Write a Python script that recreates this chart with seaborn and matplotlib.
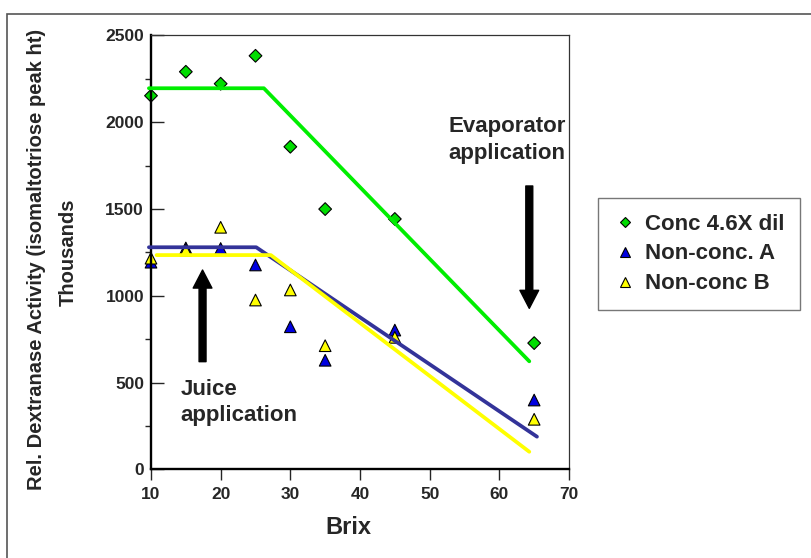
"""Dextranase activity vs Brix: scatter of three samples with piecewise trend lines."""

import matplotlib
matplotlib.use("Agg")
import matplotlib.pyplot as plt
from matplotlib.patches import Rectangle
from matplotlib.ticker import MultipleLocator
import pandas as pd
import seaborn as sns

# measured points
brix = [10, 15, 20, 25, 30, 35, 45, 65]
conc_dil = [2152, 2290, 2221, 2382, 1858, 1499, 1442, 727]
non_conc_a = [1193, 1275, 1272, 1177, 821, 628, 802, 399]
non_conc_b = [1216, 1262, 1394, 975, 1033, 712, 760, 288]
series_names = ["Conc 4.6X dil", "Non-conc. A", "Non-conc B"]

# piecewise trend lines (plateau then linear decline)
conc_fit_x = [9.7, 26.2, 64.3]
conc_fit_y = [2195, 2195, 622]
a_fit_x = [9.7, 25.1, 65.4]
a_fit_y = [1279, 1279, 188]
b_fit_x = [10.8, 27.2, 64.3]
b_fit_y = [1234, 1234, 101]

# annotation arrows: (x, tail, tip)
juice_arrow = (17.4, 620, 1148)
evap_arrow = (64.3, 1632, 927)

marker_colors = {"Conc 4.6X dil": "#00dd00", "Non-conc. A": "#0000e0", "Non-conc B": "#ffff00"}
marker_shapes = {"Conc 4.6X dil": "D", "Non-conc. A": "^", "Non-conc B": "^"}
marker_areas = {"Conc 4.6X dil": 42, "Non-conc. A": 70, "Non-conc B": 70}

df = pd.DataFrame({
    "Brix": brix * 3,
    "activity": conc_dil + non_conc_a + non_conc_b,
    "sample": [n for n in series_names for _ in brix],
})

sns.set_style("white")
plt.rcParams["font.family"] = ["Liberation Sans", "DejaVu Sans"]
plt.rcParams["font.weight"] = "bold"

fig = plt.figure(figsize=(8.11, 5.58), dpi=100)
ax = fig.add_axes([151 / 811, 1 - 469.3 / 558, 418 / 811, 434 / 558])

sns.scatterplot(data=df, x="Brix", y="activity", hue="sample", style="sample",
                size="sample", sizes=marker_areas,
                palette=marker_colors, markers=marker_shapes,
                edgecolor="black", linewidth=0.8, zorder=2, ax=ax)
for coll in ax.collections:
    coll.set_clip_on(False)

for fx, fy, col in [(conc_fit_x, conc_fit_y, "#00ee00"),
                    (a_fit_x, a_fit_y, "#333399"),
                    (b_fit_x, b_fit_y, "#ffff00")]:
    sns.lineplot(x=fx, y=fy, color=col, linewidth=2.7, estimator=None, sort=False,
                 solid_capstyle="round", zorder=3, ax=ax)
for ln in ax.lines:
    ln.set_clip_on(False)

ax.set_xlim(10, 70)
ax.set_ylim(0, 2500)
ax.xaxis.set_major_locator(MultipleLocator(10))
ax.yaxis.set_major_locator(MultipleLocator(500))
ax.yaxis.set_minor_locator(MultipleLocator(250))

ax.tick_params(axis="y", which="major", direction="in", length=9.4, width=1,
               labelsize=12.5, pad=5, left=True)
ax.tick_params(axis="y", which="minor", direction="out", length=4.3, width=1, left=True)
ax.tick_params(axis="x", which="major", direction="out", length=8, width=1,
               labelsize=12.5, pad=5, bottom=True)
for lab in ax.get_xticklabels() + ax.get_yticklabels():
    lab.set_fontweight("bold")

for side in ["left", "bottom"]:
    ax.spines[side].set_linewidth(1.7)
    ax.spines[side].set_color("black")
for side in ["top", "right"]:
    ax.spines[side].set_linewidth(0.9)
    ax.spines[side].set_color("#333333")

ax.set_xlabel("Brix", fontsize=17, fontweight="bold")
ax.xaxis.set_label_coords(0.471, -0.107)
ax.set_ylabel("")
ax.text(-0.275, 0.4846, "Rel. Dextranase Activity (isomaltotriose peak ht)",
        transform=ax.transAxes, rotation=90, ha="center", va="center",
        fontsize=14.5, fontweight="bold")
ax.text(-0.1986, 0.5007, "Thousands", transform=ax.transAxes, rotation=90,
        ha="center", va="center", fontsize=14.5, fontweight="bold")

# arrows
for ax_x, tail, tip in [juice_arrow, evap_arrow]:
    ax.annotate("", xy=(ax_x, tip), xytext=(ax_x, tail),
                arrowprops=dict(arrowstyle="simple,head_width=1.35,head_length=1.3,tail_width=0.5",
                                fc="black", ec="black", shrinkA=0, shrinkB=0, mutation_scale=10))

ax.text(14.2, 520, "Juice\napplication", ha="left", va="top", fontsize=16,
        fontweight="bold", linespacing=1.3)
ax.text(69.5, 2035, "Evaporator\napplication", ha="right", va="top", fontsize=16,
        fontweight="bold", linespacing=1.4, multialignment="right")

sns.move_legend(ax, "upper left", bbox_to_anchor=(598 / 811, 1 - 198 / 558),
                bbox_transform=fig.transFigure, title=None, frameon=True,
                fontsize=16, handlelength=1.0, handletextpad=0.4,
                borderpad=0.7, labelspacing=0.4, borderaxespad=0,
                markerscale=0.8, fancybox=False)
leg = ax.get_legend()
leg.get_frame().set_edgecolor("#555555")
leg.get_frame().set_linewidth(1.0)
for t in leg.get_texts():
    t.set_fontweight("bold")

# outer frame around the whole graphic
fig.patches.append(Rectangle((7 / 811, -0.2), 1.2, 1 - 14 / 558 + 0.2,
                             transform=fig.transFigure, fill=False,
                             edgecolor="#555555", linewidth=1.2))

fig.savefig("out.png", dpi=100)
